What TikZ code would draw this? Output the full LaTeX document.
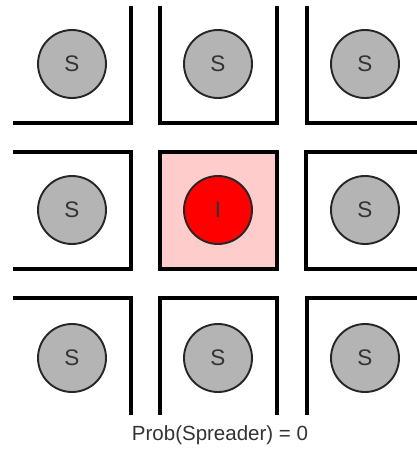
\documentclass[tikz,border=0pt]{standalone}
\usepackage{fontspec}
\setmainfont{Liberation Sans}
\definecolor{cellpink}{RGB}{255,204,204}
\definecolor{susgray}{RGB}{180,180,180}
\definecolor{inkgray}{RGB}{51,51,51}
\begin{document}
\begin{tikzpicture}[x=1pt,y=-1pt,
  wall/.style={line width=4.3pt, line join=miter},
  agent/.style={circle, draw=black!85, line width=1.9pt, minimum size=68pt, inner sep=0pt,
    font=\fontsize{22.5}{26}\selectfont, text=inkgray},
  sus/.style={agent, fill=susgray},
  inf/.style={agent, fill=red},
  caption/.style={font=\fontsize{20.5}{24}\selectfont, text=inkgray}]
\useasboundingbox (0,0) rectangle (417,450);
% cells
\draw[wall] (13,123) -- (131,123) -- (131,6);
\draw[wall] (160,6) -- (160,123) -- (277,123) -- (277,6);
\draw[wall] (307,6) -- (307,123) -- (419,123);
\draw[wall] (13,152) -- (131,152) -- (131,269) -- (13,269);
\draw[wall, fill=cellpink] (160,152) rectangle (277,269);
\draw[wall] (419,152) -- (306,152) -- (306,269) -- (419,269);
\draw[wall] (13,298) -- (131,298) -- (131,415);
\draw[wall] (160,415) -- (160,298) -- (277,298) -- (277,415);
\draw[wall] (307,415) -- (307,298) -- (419,298);
% agents
\node[sus] (s11) at (72,64) {S};
\node[sus] (s12) at (218,64) {S};
\node[sus] (s13) at (365,64) {S};
\node[sus] (s21) at (72,210) {S};
\node[inf] (i22) at (218,210) {I};
\node[sus] (s23) at (365,210) {S};
\node[sus] (s31) at (72,358) {S};
\node[sus] (s32) at (218,358) {S};
\node[sus] (s33) at (365,358) {S};
\node[caption] (cap) at (220,435) {Prob(Spreader) = 0};
\end{tikzpicture}
\end{document}
